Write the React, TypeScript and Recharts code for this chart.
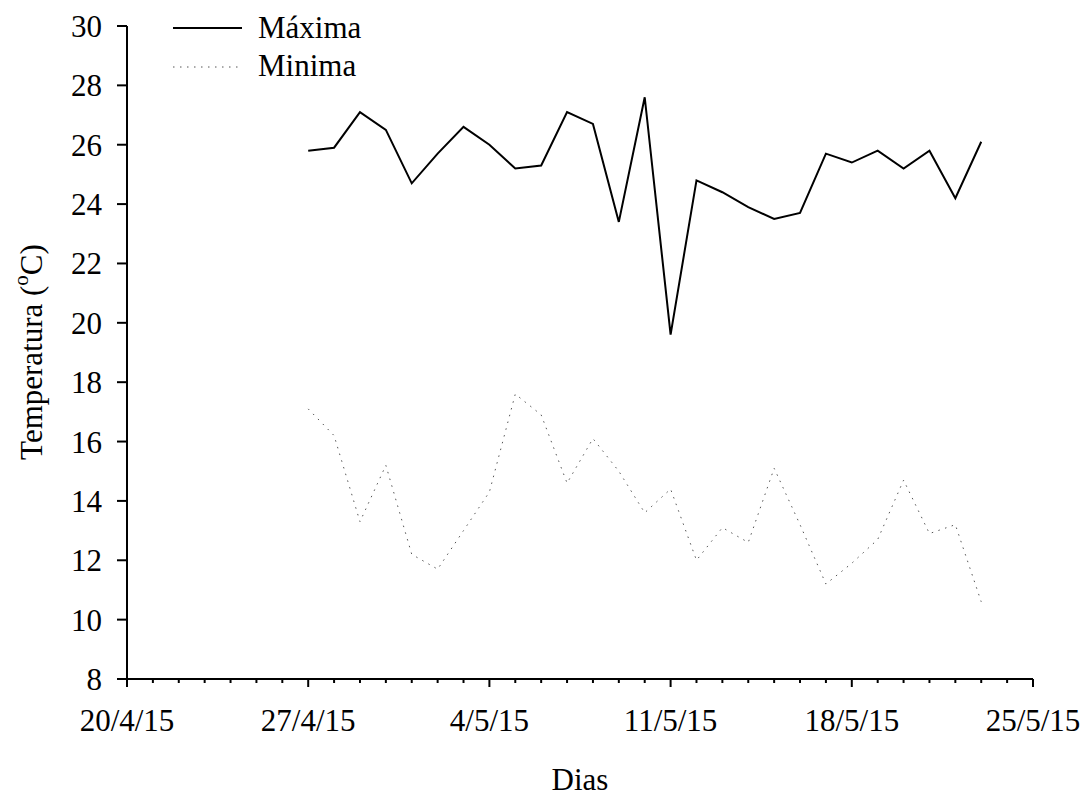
import React from 'react';
import { LineChart, Line, XAxis, YAxis, Legend } from 'recharts';

// days counted from 20/4/15 (day 0); series start on 27/4/15
const startDay = 7;
const maxima = [
  25.8, 25.9, 27.1, 26.5, 24.7, 25.7, 26.6, 26.0, 25.2, 25.3, 27.1, 26.7, 23.4, 27.6,
  19.6, 24.8, 24.4, 23.9, 23.5, 23.7, 25.7, 25.4, 25.8, 25.2, 25.8, 24.2, 26.1,
];
const minima = [
  17.1, 16.2, 13.3, 15.2, 12.2, 11.7, 13.0, 14.3, 17.6, 16.9, 14.6, 16.1, 15.0, 13.6,
  14.4, 12.0, 13.1, 12.6, 15.1, 13.2, 11.2, 11.9, 12.7, 14.7, 12.9, 13.2, 10.6,
];
const dateLabels = ['20/4/15', '27/4/15', '4/5/15', '11/5/15', '18/5/15', '25/5/15'];
const yTicks = [8, 10, 12, 14, 16, 18, 20, 22, 24, 26, 28, 30];
const seriesNames = ['Máxima', 'Minima'];

const data = maxima.map((v, i) => ({ day: startDay + i, maxima: v, minima: minima[i] }));
const dayTicks = Array.from({ length: 36 }, (_, i) => i);

const FONT = '"Liberation Serif", "Times New Roman", serif';
const FS = 31;
const DOTS = '1.5 5.5';

const DayTick = ({ x, y, payload }: any) => {
  const major = payload.value % 7 === 0;
  return (
    <g>
      <line x1={x} x2={x} y1={y} y2={y + (major ? 8 : 4)} stroke="#000" strokeWidth={2} />
      {major && (
        <text x={x} y={y + 52} textAnchor="middle" fontSize={FS} fill="#000" fontFamily={FONT}>
          {dateLabels[payload.value / 7]}
        </text>
      )}
    </g>
  );
};

const YLabel = () => (
  <text
    x={31}
    y={352}
    transform="rotate(-90, 31, 352)"
    textAnchor="middle"
    dominantBaseline="central"
    fontSize={FS}
    fill="#000"
    fontFamily={FONT}
  >
    Temperatura (<tspan dy={-10} fontSize={21}>o</tspan>
    <tspan dy={10}>C)</tspan>
  </text>
);

const renderLegend = () => (
  <svg width={220} height={80} style={{ display: 'block' }}>
    {seriesNames.map((name, i) => (
      <g key={name}>
        <line
          x1={0}
          x2={69}
          y1={20 + i * 39}
          y2={20 + i * 39}
          stroke={i === 0 ? '#000' : '#555'}
          strokeWidth={i === 0 ? 2 : 1}
          strokeDasharray={i === 0 ? undefined : DOTS}
        />
        <text x={85} y={19 + i * 38} dy="0.35em" fontSize={FS} fill="#000" fontFamily={FONT}>
          {name}
        </text>
      </g>
    ))}
  </svg>
);

export default function App() {
  return (
    <div style={{ position: 'absolute', left: 0, top: 0, background: '#fff' }}>
      <LineChart
        width={1083}
        height={796}
        data={data}
        margin={{ top: 26, right: 50, left: 67, bottom: 57 }}
        style={{ fontFamily: FONT }}
      >
        <XAxis
          type="number"
          dataKey="day"
          domain={[0, 35]}
          ticks={dayTicks}
          interval={0}
          height={60}
          tickSize={0}
          tickMargin={0}
          tickLine={false}
          tick={<DayTick />}
          axisLine={{ stroke: '#000', strokeWidth: 2 }}
          label={{ content: () => (
            <text x={580} y={779} textAnchor="middle" dominantBaseline="central" fontSize={FS} fill="#000" fontFamily={FONT}>
              Dias
            </text>
          ) }}
        />
        <YAxis
          type="number"
          domain={[8, 30]}
          ticks={yTicks}
          interval={0}
          width={60}
          tickSize={10}
          tickMargin={15}
          tick={{ fill: '#000', fontSize: FS, fontFamily: FONT }}
          tickLine={{ stroke: '#000', strokeWidth: 2 }}
          axisLine={{ stroke: '#000', strokeWidth: 2 }}
          label={{ content: () => <YLabel /> }}
        />
        <Legend
          layout="horizontal"
          verticalAlign="middle"
          align="center"
          content={renderLegend}
          wrapperStyle={{ left: 173, top: 8, width: 220, height: 80 }}
        />
        <Line
          type="linear"
          dataKey="maxima"
          name={seriesNames[0]}
          stroke="#000"
          strokeWidth={2}
          dot={false}
          isAnimationActive={false}
        />
        <Line
          type="linear"
          dataKey="minima"
          name={seriesNames[1]}
          stroke="#555"
          strokeWidth={1}
          strokeDasharray={DOTS}
          dot={false}
          isAnimationActive={false}
        />
      </LineChart>
    </div>
  );
}
